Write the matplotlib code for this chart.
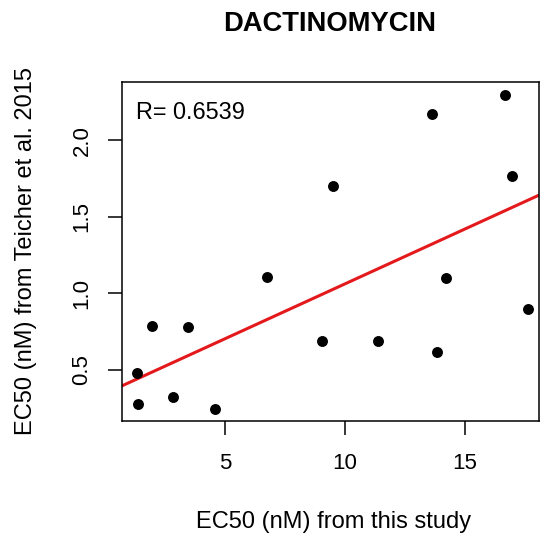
import matplotlib
matplotlib.use("Agg")
import matplotlib.pyplot as plt
import numpy as np

plt.rcParams.update({"font.family": ["Liberation Sans", "DejaVu Sans"]})

# EC50 values
ec50_this_study = [1.32, 1.39, 1.95, 2.85, 3.47, 4.60, 6.74, 9.05, 9.49, 11.39,
                   13.63, 13.85, 14.21, 16.67, 16.95, 17.64]
ec50_teicher = [0.478, 0.278, 0.787, 0.321, 0.783, 0.247, 1.109, 0.691, 1.701, 0.691,
                2.174, 0.615, 1.103, 2.298, 1.767, 0.896]
r_label = "R= 0.6539"
title = "DACTINOMYCIN"

x = np.array(ec50_this_study); y = np.array(ec50_teicher)
slope, icpt = np.polyfit(x, y, 1)

fig = plt.figure(figsize=(5.44, 5.38), dpi=100)
ax = fig.add_axes([0.2237, 0.2175, 0.9908 - 0.2237, 0.8476 - 0.2175])
ax.scatter(x, y, s=62, color="black", zorder=3, linewidths=0)
ax.set_xlim(0.70, 18.08); ax.set_ylim(0.167, 2.381)
xx = np.array(ax.get_xlim())
ax.plot(xx, icpt + slope * xx, color="#e3191c", lw=2.2, zorder=2, solid_capstyle="butt")

ax.set_xticks([5, 10, 15]); ax.set_yticks([0.5, 1.0, 1.5, 2.0])
ax.set_yticklabels(["0.5", "1.0", "1.5", "2.0"], rotation=90, va="center")
ax.tick_params(length=10, width=1.1, labelsize=16)
ax.tick_params(axis="x", pad=13)
ax.tick_params(axis="y", pad=11)
for s in ax.spines.values():
    s.set_linewidth(1.1)

ax.text(136 / 544, 1 - 112.7 / 538, r_label, transform=fig.transFigure,
        fontsize=16.9, va="center", ha="left")
fig.text(330 / 544, 1 - 24 / 538, title, fontsize=19.7, fontweight="bold",
         ha="center", va="center")
fig.text(334 / 544, 1 - 522 / 538, "EC50 (nM) from this study", fontsize=17,
         ha="center", va="center")
fig.text(26 / 544, 1 - 251 / 538, "EC50 (nM) from Teicher et al. 2015", fontsize=17,
         ha="center", va="center", rotation=90)

fig.savefig("out.png", dpi=100)
